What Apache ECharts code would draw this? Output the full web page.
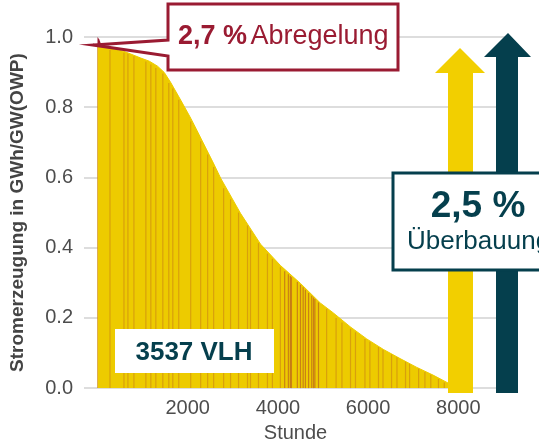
<!DOCTYPE html>
<html>
<head>
<meta charset="utf-8">
<script src="https://cdn.jsdelivr.net/npm/echarts@6/dist/echarts.min.js"></script>
<style>
  html, body { margin: 0; padding: 0; background: #ffffff; }
  #chart { width: 539px; height: 448px; }
</style>
</head>
<body>
<div id="chart"></div>
<script>
// Duration curve: hourly generation sorted in descending order (GWh per GW OWP)
const curveHours  = [0, 100, 280, 590, 960, 1150, 1330, 1480, 1620, 1850, 2070, 2290, 2580, 2730, 3170, 3615, 4058, 4501, 4944, 5230, 5600, 5970, 6340, 6710, 7080, 7440, 7780, 7850];
const curveValues = [0.978, 0.975, 0.968, 0.959, 0.940, 0.931, 0.917, 0.899, 0.871, 0.819, 0.768, 0.712, 0.638, 0.598, 0.498, 0.410, 0.349, 0.298, 0.242, 0.214, 0.175, 0.140, 0.110, 0.084, 0.059, 0.037, 0.014, 0.0];

// Hours in which output was curtailed, with the generation in that hour
const curtailHours  = [276, 586, 674, 807, 1072, 1182, 1293, 1448, 1580, 1669, 1801, 2066, 2287, 2442, 2575, 2796,
                       2950, 3127, 3326, 3392, 3569, 3768, 3878, 4055, 4150, 4232, 4276, 4300, 4431, 4500, 4560, 4610,
                       4680, 4750, 4790, 4820, 4900, 5080, 5290, 5420, 5610, 5720, 5930, 6040, 6230, 6330, 6520, 6640,
                       6830, 6920, 7120, 7260, 7390, 7560, 7690];
const curtailValues = [0.963, 0.955, 0.952, 0.945, 0.930, 0.922, 0.912, 0.896, 0.869, 0.853, 0.821, 0.759, 0.703, 0.665, 0.630, 0.569,
                       0.538, 0.500, 0.463, 0.449, 0.413, 0.383, 0.368, 0.344, 0.333, 0.324, 0.319, 0.316, 0.302, 0.294, 0.287, 0.280,
                       0.271, 0.263, 0.258, 0.254, 0.244, 0.225, 0.200, 0.187, 0.169, 0.159, 0.140, 0.132, 0.117, 0.109, 0.096, 0.088,
                       0.075, 0.069, 0.056, 0.046, 0.038, 0.026, 0.016];

// Curtailed energy above the curve in the first hours
const capHours  = [0, 40, 90];
const capValues = [1.0, 0.993, 0.975];

// Axis ticks
const xTickValues = [2000, 4000, 6000, 8000];
const yTickStep = 0.2;

// Key figures
const fullLoadHours = '3537 VLH';
const curtailShare = '2,7 %';
const curtailText = 'Abregelung';
const overbuildShare = '2,5 %';
const overbuildText = 'Überbauung';

const FONT = '"Liberation Sans", Arial, Helvetica, sans-serif';
const YELLOW = '#EDCB00';
const ARROW_YELLOW = '#F2CF00';
const TEAL = '#053F4D';
const RED = '#9A1B32';

const chart = echarts.init(document.getElementById('chart'), null, { renderer: 'canvas' });

const option = {
  animation: false,
  backgroundColor: '#ffffff',
  grid: { left: 83, right: 32, top: 37, bottom: 53, containLabel: false },
  xAxis: {
    type: 'value',
    min: -300,
    max: 9080,
    name: 'Stunde',
    nameLocation: 'middle',
    nameGap: 34,
    nameTextStyle: { fontFamily: FONT, fontSize: 20, color: '#4D4D4D' },
    axisLine: { show: false },
    axisTick: { show: false },
    splitLine: { show: false },
    axisLabel: {
      customValues: xTickValues,
      formatter: v => String(v),
      fontFamily: FONT, fontSize: 20, color: '#4D4D4D', margin: 10
    }
  },
  yAxis: {
    type: 'value',
    min: 0,
    max: 1,
    interval: yTickStep,
    name: 'Stromerzeugung in GWh/GW(OWP)',
    nameLocation: 'middle',
    nameGap: 57,
    nameTextStyle: { fontFamily: FONT, fontSize: 19, fontWeight: 'bold', color: '#444444' },
    axisLine: { show: false },
    axisTick: { show: false },
    splitLine: { show: true, lineStyle: { color: '#DDDDDD', width: 2 } },
    axisLabel: {
      fontFamily: FONT, fontSize: 20, color: '#4D4D4D', margin: 11,
      formatter: v => v.toFixed(1)
    }
  },
  series: [
    {
      name: 'Abregelung',
      type: 'line',
      data: capHours.map((h, i) => [h, capValues[i]]),
      symbol: 'none',
      lineStyle: { width: 0 },
      areaStyle: { color: RED, opacity: 1 },
      z: 2
    },
    {
      name: 'Erzeugung',
      type: 'line',
      data: curveHours.map((h, i) => [h, curveValues[i]]),
      symbol: 'none',
      lineStyle: { color: YELLOW, width: 1 },
      areaStyle: { color: YELLOW, opacity: 1 },
      z: 3
    },
    {
      name: 'Abregelungsstunden',
      type: 'custom',
      data: curtailHours.map((h, i) => [h, curtailValues[i]]),
      renderItem: (params, api) => {
        const h = api.value(0);
        const base = api.coord([h, 0]);
        const top = api.coord([h, api.value(1)]);
        const alpha = (h > 4100 && h < 4950) ? 0.45 : 0.26;
        return {
          type: 'line',
          shape: { x1: base[0], y1: base[1], x2: top[0], y2: top[1] },
          style: { stroke: 'rgba(160, 40, 45, ' + alpha + ')', lineWidth: 1.2 }
        };
      },
      z: 4
    }
  ],
  graphic: [
    // Arrows
    {
      type: 'polygon', z: 100,
      shape: { points: [[448, 393], [448, 73], [435, 73], [460, 48], [485, 73], [473, 73], [473, 393]] },
      style: { fill: ARROW_YELLOW }
    },
    {
      type: 'polygon', z: 100,
      shape: { points: [[496, 393], [496, 57], [484, 57], [508, 33], [531, 57], [518, 57], [518, 393]] },
      style: { fill: TEAL }
    },
    // Curtailment callout
    {
      type: 'polygon', z: 110,
      shape: { points: [[168, 4], [398, 4], [398, 70], [168, 70], [168, 56], [93, 45], [168, 40]] },
      style: { fill: '#ffffff', stroke: RED, lineWidth: 3, lineJoin: 'miter' }
    },
    {
      type: 'text', z: 111, x: 178, y: 37,
      style: {
        text: '{b|' + curtailShare + '} {n|' + curtailText + '}',
        verticalAlign: 'middle',
        rich: {
          b: { fontFamily: FONT, fontSize: 27, fontWeight: 'bold', fill: RED },
          n: { fontFamily: FONT, fontSize: 27, fill: RED }
        }
      }
    },
    // Full load hours box
    {
      type: 'rect', z: 110,
      shape: { x: 115, y: 329, width: 159, height: 44 },
      style: { fill: '#ffffff' }
    },
    {
      type: 'text', z: 111, x: 194, y: 353,
      style: {
        text: fullLoadHours, fontFamily: FONT, fontSize: 26, fontWeight: 'bold',
        fill: TEAL, align: 'center', verticalAlign: 'middle'
      }
    },
    // Overbuild box
    {
      type: 'rect', z: 110,
      shape: { x: 393, y: 173, width: 170, height: 97 },
      style: { fill: '#ffffff', stroke: TEAL, lineWidth: 3 }
    },
    {
      type: 'text', z: 111, x: 478, y: 207,
      style: {
        text: overbuildShare, fontFamily: FONT, fontSize: 37, fontWeight: 'bold',
        fill: TEAL, align: 'center', verticalAlign: 'middle'
      }
    },
    {
      type: 'text', z: 111, x: 407, y: 242,
      style: {
        text: overbuildText, fontFamily: FONT, fontSize: 26,
        fill: TEAL, align: 'left', verticalAlign: 'middle'
      }
    }
  ]
};

chart.setOption(option);
</script>
</body>
</html>
